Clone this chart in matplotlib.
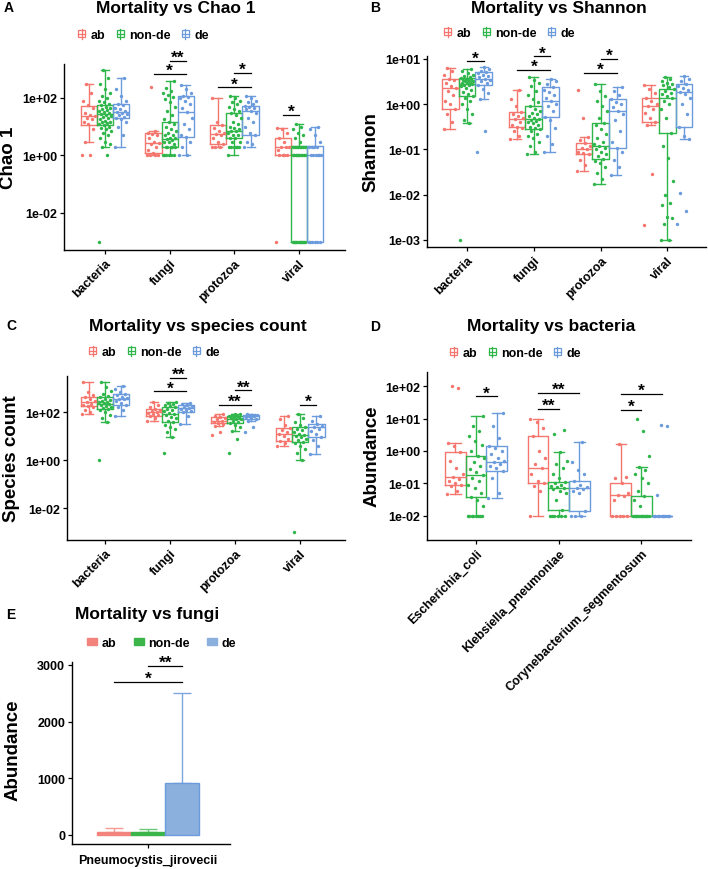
import numpy as np
import matplotlib
matplotlib.use("Agg")
import matplotlib.pyplot as plt
from matplotlib.lines import Line2D
from matplotlib.patches import Patch, Rectangle
from matplotlib.legend_handler import HandlerBase

plt.rcParams['font.family'] = ['Liberation Sans', 'DejaVu Sans']
plt.rcParams['font.weight'] = 'bold'

GROUPS = ["ab", "non-de", "de"]
COL = ["#F4766F", "#2EB64A", "#6B9BDD"]
E_FILL = ["#F2837D", "#3BB54A", "#8CB0DE"]
E_ERRCOL = ["#F59C96", "#6CC878", "#7EA6DE"]

# ---------------- Panel A: Chao 1 ----------------
A_CATS = ["bacteria", "fungi", "protozoa", "viral"]
# (whisker low, q1, median, q3, whisker high) for ab, non-de, de
A_BOX = [
    [(2.9, 11.5, 23, 54, 307), (1.9, 11, 28, 57, 900), (1.9, 19.5, 32, 60, 500)],
    [(1, 1.2, 2.7, 5.9, 6.8), (1, 1.9, 3.7, 14, 400), (1, 4.3, 32, 120, 280)],
    [(1.9, 2.4, 5.6, 11.5, 100), (1, 4, 7.3, 29, 120), (1.9, 5.2, 36, 54, 120)],
    [(1, 1, 1.9, 4, 8.7), (0.001, 0.001, 1, 2.1, 12.5), (0.001, 0.001, 1, 2.1, 9.5)],
]
A_PTS = [
    [[1, 1, 2.9, 8, 12, 15, 18, 20, 23, 25, 30, 45, 55, 80, 150, 307],
     [0.001, 1, 1.9, 2.5, 3, 4, 5, 6, 7, 8, 9, 10, 11, 12, 13, 14, 15, 16, 18, 20, 22, 24, 26, 28,
      30, 32, 35, 38, 40, 45, 50, 55, 60, 70, 80, 100, 120, 150, 200, 300, 500, 900],
     [1.9, 5, 10, 15, 19, 20, 22, 25, 28, 30, 32, 35, 40, 45, 55, 60, 80, 120, 200, 500]],
    [[1, 1, 1, 1, 1.2, 1.5, 2, 2.5, 2.7, 3, 4, 5, 5.5, 6, 6.8, 235],
     [1, 1, 1, 1, 1, 1, 2, 2, 2, 2, 2, 2.5, 3, 3, 3.5, 3.7, 4, 4, 5, 5, 6, 7, 8, 10, 12, 14, 18, 25,
      35, 50, 70, 90, 110, 130, 150, 180, 220, 400],
     [1, 1, 2, 3, 4.3, 5, 8, 12, 20, 32, 45, 60, 80, 100, 110, 120, 150, 200, 280]],
    [[1.9, 1.9, 2, 2.4, 3, 4, 5, 5.6, 6, 7, 9, 11.5, 15, 100],
     [1, 1.9, 2, 2, 2, 2, 2, 3, 3, 4, 4, 5, 5, 6, 7, 7.3, 8, 9, 10, 12, 15, 20, 25, 29, 35, 40, 50,
      60, 70, 80, 100, 120],
     [1.9, 2.5, 3, 5.2, 6, 10, 15, 20, 30, 36, 40, 45, 50, 54, 60, 70, 80, 100, 120]],
    [[0.001, 1, 1, 1, 1, 1.5, 1.9, 2, 2, 3, 4, 6, 8, 8.7],
     [0.001, 0.001, 0.001, 0.001, 0.001, 0.001, 0.001, 0.001, 0.001, 0.001, 0.001, 0.001,
      1, 1, 1, 1, 1, 1, 1, 1, 1, 1, 2, 2, 2, 2, 2, 2, 2, 2, 3, 4, 5, 6, 8, 10, 12.5],
     [0.001, 0.001, 0.001, 0.001, 0.001, 0.001, 1, 1, 1, 1, 1, 1, 2, 2, 2, 2, 3, 5, 8, 9.5]],
]
A_SIG = [(1, 1, 2, 2000, "**"), (1, 0, 2, 676, "*"), (2, 1, 2, 741, "*"),
         (2, 0, 2, 234, "*"), (3, 0, 1, 26, "*")]
A_YTICKS = [1e-2, 1, 1e2]
A_YTICKLABELS = ["1e-02", "1e+00", "1e+02"]

# ---------------- Panel B: Shannon ----------------
B_CATS = ["bacteria", "fungi", "protozoa", "viral"]
B_BOX = [
    [(0.28, 0.78, 2.24, 3.7, 6.3), (0.39, 1.5, 2.8, 3.8, 6.0), (1.3, 2.6, 3.7, 5.1, 6.6)],
    [(0.17, 0.31, 0.46, 0.69, 2.1), (0.079, 0.28, 0.47, 0.93, 4.1), (0.09, 0.51, 1.2, 2.35, 3.6)],
    [(0.034, 0.079, 0.1, 0.138, 0.19), (0.017, 0.062, 0.12, 0.39, 2.8), (0.027, 0.11, 0.72, 1.3, 2.35)],
    [(0.35, 0.4, 0.9, 1.4, 2.7), (0.001, 0.23, 1.35, 2.2, 4.0), (0.17, 0.32, 1.9, 2.8, 4.2)],
]
B_PTS = [
    [[0.28, 0.4, 0.6, 0.78, 1.0, 1.2, 1.6, 2.0, 2.24, 2.5, 3.0, 3.5, 3.7, 4.5, 5.5, 6.3],
     [0.001, 0.39, 0.45, 0.6, 0.8, 1.0, 1.2, 1.4, 1.5, 1.7, 1.9, 2.1, 2.3, 2.5, 2.6, 2.7, 2.8, 2.9,
      3.0, 3.1, 3.2, 3.3, 3.4, 3.5, 3.6, 3.7, 3.8, 4.0, 4.2, 4.5, 5.0, 5.5, 6.0],
     [0.087, 0.25, 1.3, 1.8, 2.2, 2.6, 3.0, 3.3, 3.5, 3.7, 3.9, 4.2, 4.5, 4.8, 5.1, 5.5, 6.0, 6.6]],
    [[0.17, 0.2, 0.25, 0.3, 0.31, 0.35, 0.4, 0.46, 0.5, 0.55, 0.6, 0.69, 0.9, 1.3, 2.1],
     [0.079, 0.09, 0.12, 0.15, 0.18, 0.2, 0.22, 0.25, 0.28, 0.3, 0.32, 0.35, 0.38, 0.4, 0.42, 0.45,
      0.47, 0.5, 0.55, 0.6, 0.65, 0.7, 0.8, 0.93, 1.1, 1.3, 1.6, 2.0, 2.5, 3.0, 3.5, 4.1],
     [0.09, 0.13, 0.2, 0.3, 0.45, 0.51, 0.7, 0.9, 1.0, 1.2, 1.4, 1.6, 1.9, 2.1, 2.35, 2.8, 3.2, 3.6]],
    [[0.034, 0.045, 0.06, 0.079, 0.085, 0.09, 0.1, 0.11, 0.12, 0.138, 0.16, 0.19, 0.5, 2.1],
     [0.017, 0.022, 0.03, 0.04, 0.05, 0.055, 0.062, 0.07, 0.08, 0.09, 0.1, 0.11, 0.12, 0.13, 0.15,
      0.18, 0.22, 0.28, 0.35, 0.39, 0.5, 0.7, 0.9, 1.2, 1.5, 2.0, 2.8],
     [0.027, 0.04, 0.06, 0.09, 0.11, 0.15, 0.25, 0.45, 0.6, 0.72, 0.85, 1.0, 1.1, 1.3, 1.6, 2.0, 2.35]],
    [[0.0021, 0.029, 0.35, 0.4, 0.5, 0.65, 0.8, 0.9, 1.0, 1.2, 1.4, 1.8, 2.2, 2.7],
     [0.001, 0.001, 0.0023, 0.003, 0.0032, 0.006, 0.0065, 0.01, 0.02, 0.065, 0.12, 0.23, 0.5, 0.8,
      1.0, 1.2, 1.35, 1.5, 1.7, 1.8, 2.0, 2.2, 2.4, 2.6, 2.8, 3.0, 3.3, 3.6, 4.0],
     [0.0022, 0.0044, 0.0107, 0.17, 0.2, 0.32, 0.6, 1.0, 1.4, 1.7, 1.9, 2.1, 2.3, 2.5, 2.8, 3.2, 3.6, 4.2]],
]
B_SIG = [(0, 1, 2, 8.9, "*"), (1, 1, 2, 11.5, "*"), (1, 0, 2, 5.75, "*"),
         (2, 1, 2, 10, "*"), (2, 0, 2, 5.0, "*")]
B_YTICKS = [1e-3, 1e-2, 1e-1, 1, 10]
B_YTICKLABELS = ["1e-03", "1e-02", "1e-01", "1e+00", "1e+01"]

# ---------------- Panel C: species count ----------------
C_CATS = ["bacteria", "fungi", "protozoa", "viral"]
C_BOX = [
    [(85, 178, 260, 420, 1780), (38, 138, 220, 420, 1780), (73, 200, 360, 575, 1200)],
    [(45, 68, 100, 138, 280), (9, 38, 85, 162, 280), (33, 100, 150, 200, 245)],
    [(28, 36, 45, 62, 85), (17, 36, 53, 73, 85), (45, 53, 68, 77, 85)],
    [(4, 6.6, 12.5, 21.5, 73), (1, 6, 11.5, 24, 85), (1.8, 9, 24, 33, 73)],
]
C_PTS = [
    [[85, 100, 130, 160, 178, 200, 230, 260, 300, 350, 420, 500, 700, 1780],
     [1, 38, 60, 80, 100, 120, 138, 150, 170, 190, 210, 220, 240, 260, 280, 300, 330, 370, 420,
      480, 600, 800, 1100, 1780],
     [73, 120, 170, 200, 250, 300, 340, 360, 400, 450, 520, 575, 700, 900, 1200]],
    [[45, 55, 68, 75, 85, 95, 100, 110, 120, 138, 160, 200, 280],
     [2, 9, 15, 20, 25, 30, 38, 45, 55, 65, 75, 85, 95, 110, 125, 140, 162, 180, 200, 220, 250, 280],
     [33, 70, 100, 115, 130, 140, 150, 160, 175, 200, 220, 245]],
    [[11, 15, 28, 33, 36, 40, 45, 50, 55, 62, 70, 85],
     [2, 8, 17, 25, 30, 36, 40, 45, 50, 53, 58, 62, 66, 70, 73, 78, 82, 85],
     [15.5, 24, 45, 53, 58, 63, 68, 72, 77, 80, 85]],
    [[4, 5, 6.6, 8, 10, 12.5, 15, 18, 21.5, 30, 50, 73],
     [0.001, 1, 2, 3, 4, 5, 6, 7, 8, 9, 10, 11.5, 13, 15, 18, 21, 24, 30, 40, 55, 85],
     [1.8, 4, 7, 9, 12, 16, 20, 24, 28, 33, 45, 73]],
]
C_SIG = [(1, 1, 2, 2700, "**"), (1, 0, 2, 750, "*"), (2, 1, 2, 830, "**"),
         (2, 0, 2, 200, "**"), (3, 1, 2, 200, "*")]
C_YTICKS = [1e-2, 1, 1e2]
C_YTICKLABELS = ["1e-02", "1e+00", "1e+02"]

# ---------------- Panel D: bacteria ----------------
D_CATS = ["Escherichia_coli", "Klebsiella_pneumoniae", "Corynebacterium_segmentosum"]
D_BOX = [
    [(0.047, 0.091, 0.155, 0.91, 1.8), (0.01, 0.037, 0.18, 0.69, 12.4), (0.035, 0.245, 0.45, 1.46, 15)],
    [(0.01, 0.1, 0.29, 2.9, 10), (0.01, 0.015, 0.07, 0.112, 0.9), (0.01, 0.014, 0.07, 0.12, 1.86)],
    [(0.01, 0.01, 0.045, 0.1, 1.65), (0.01, 0.01, 0.01, 0.04, 0.31), (0.01, 0.01, 0.01, 0.01, 0.01)],
]
D_PTS = [
    [[0.047, 0.06, 0.08, 0.091, 0.1, 0.12, 0.14, 0.155, 0.2, 0.3, 0.5, 0.91, 1.4, 1.8, 88, 100],
     [0.01, 0.01, 0.01, 0.01, 0.01, 0.01, 0.01, 0.01, 0.02, 0.03, 0.037, 0.05, 0.07, 0.09, 0.12,
      0.15, 0.18, 0.22, 0.28, 0.35, 0.45, 0.6, 0.69, 1.0, 1.5, 2.0, 3.0, 4.0, 6.0, 12.4],
     [0.035, 0.05, 0.15, 0.245, 0.3, 0.35, 0.4, 0.45, 0.5, 0.6, 0.8, 1.0, 1.2, 1.46, 2.5, 6.0, 15]],
    [[0.01, 0.06, 0.08, 0.1, 0.12, 0.2, 0.29, 0.4, 0.6, 1.0, 2.9, 5.0, 8.0, 10],
     [0.01, 0.01, 0.01, 0.01, 0.01, 0.01, 0.015, 0.03, 0.05, 0.06, 0.065, 0.07, 0.075, 0.08, 0.09,
      0.1, 0.112, 0.15, 0.2, 0.3, 0.4, 0.5, 0.9, 3.4, 4.6],
     [0.01, 0.01, 0.01, 0.014, 0.05, 0.06, 0.065, 0.07, 0.075, 0.09, 0.12, 0.2, 0.25, 0.45, 1.86]],
    [[0.01, 0.01, 0.01, 0.01, 0.01, 0.03, 0.04, 0.045, 0.05, 0.1, 0.15, 0.16, 1.65],
     [0.01, 0.01, 0.01, 0.01, 0.01, 0.01, 0.01, 0.01, 0.01, 0.01, 0.01, 0.01, 0.02, 0.03, 0.04,
      0.06, 0.1, 0.15, 0.2, 0.25, 0.31, 0.68, 4.1, 10],
     [0.01, 0.01, 0.01, 0.01, 0.01, 0.01, 0.01, 0.01, 0.01, 0.01, 0.045, 5.8, 6.4]],
]
D_SIG = [(0, 1, 2, 49, "*"), (1, 0, 2, 62, "**"), (1, 0, 1, 20, "**"),
         (2, 0, 2, 57.5, "*"), (2, 0, 1, 18.6, "*")]
D_YTICKS = [1e-2, 1e-1, 1, 10, 100]
D_YTICKLABELS = ["1e-02", "1e-01", "1e+00", "1e+01", "1e+02"]

# ---------------- Panel E: fungi ----------------
E_CAT = "Pneumocystis_jirovecii"
E_MEAN = [60, 55, 920]
E_UPPER = [130, 105, 2510]
E_SIG = [(1, 2, 2980, "**"), (0, 2, 2700, "*")]
E_YTICKS = [0, 1000, 2000, 3000]

OFFS = [-0.25, 0.0, 0.25]
BOXW = 0.25

W, H = 708, 870
fig = plt.figure(figsize=(W / 100, H / 100), dpi=100)


def rect(l, r, t, b):
    return [l / W, 1 - b / H, (r - l) / W, (b - t) / H]


def style_axes(ax):
    for s in ("top", "right"):
        ax.spines[s].set_visible(False)
    for s in ("left", "bottom"):
        ax.spines[s].set_linewidth(1.0)
    ax.tick_params(axis="both", length=3, width=0.9, labelsize=9, pad=2)
    for lab in ax.get_yticklabels():
        lab.set_fontweight("bold")


def jitter(n, width):
    return ((np.arange(n) * 0.6180339887) % 1.0 - 0.5) * width


def sig_bar(ax, x1, x2, y, label):
    ax.plot([x1, x2], [y, y], color="black", lw=0.9, clip_on=False, zorder=5)
    ax.annotate(label, xy=((x1 + x2) / 2, y), xytext=(0, -0.8), textcoords="offset points",
                ha="center", va="baseline", fontsize=12.5, fontweight="bold", annotation_clip=False)


class BoxKey(HandlerBase):
    def create_artists(self, legend, orig_handle, xdescent, ydescent, width, height, fontsize, trans):
        c = orig_handle.get_color()
        x0, y0 = -xdescent, -ydescent
        bw, bh = width * 0.75, height * 0.75
        bx, by = x0 + (width - bw) / 2, y0 + (height - bh) / 2
        r = Rectangle((bx, by), bw, bh, facecolor="white", edgecolor=c, lw=0.9, transform=trans)
        med = Line2D([bx, bx + bw], [by + bh / 2] * 2, color=c, lw=0.9, transform=trans)
        wh = Line2D([bx + bw / 2] * 2, [y0, y0 + height], color=c, lw=0.9, transform=trans)
        return [r, med, wh]


def box_panel(ax, cats, box, pts, sig, yticks, yticklabels, xlim, ylim):
    ax.set_yscale("log")
    for ci in range(len(cats)):
        for gi in range(3):
            x = ci + 1 + OFFS[gi]
            lo, q1, med, q3, hi = box[ci][gi]
            st = dict(whislo=lo, q1=q1, med=med, q3=q3, whishi=hi, fliers=[])
            c = COL[gi]
            ax.bxp([st], positions=[x], widths=BOXW, showfliers=False, capwidths=BOXW * 0.5,
                   boxprops=dict(color=c, lw=1.0), medianprops=dict(color=c, lw=1.0),
                   whiskerprops=dict(color=c, lw=1.0), capprops=dict(color=c, lw=1.0),
                   manage_ticks=False)
            vals = np.array(pts[ci][gi], dtype=float)
            ax.scatter(x + jitter(len(vals), 0.2), vals, s=6, color=c, lw=0, zorder=3)
    for ci, g1, g2, y, lab in sig:
        sig_bar(ax, ci + 1 + OFFS[g1], ci + 1 + OFFS[g2], y, lab)
    ax.set_xlim(*xlim)
    ax.set_ylim(*ylim)
    ax.set_yticks(yticks)
    ax.set_yticklabels(yticklabels, fontweight="bold")
    ax.yaxis.set_minor_locator(matplotlib.ticker.NullLocator())
    ax.set_xticks(range(1, len(cats) + 1))
    ax.set_xticklabels(cats, rotation=45, ha="right", rotation_mode="anchor",
                       fontsize=9, fontweight="bold")
    style_axes(ax)


def box_legend(ax, x, y):
    handles = [Line2D([], [], color=COL[i], label=GROUPS[i]) for i in range(3)]
    ax.legend(handles=handles, handler_map={Line2D: BoxKey()}, loc="center left",
              bbox_to_anchor=(x / W, 1 - y / H),
              bbox_transform=fig.transFigure, ncol=3, frameon=False,
              prop=dict(size=9, weight="bold"), handlelength=0.75, handleheight=0.8,
              handletextpad=0.35, columnspacing=0.8, borderpad=0, borderaxespad=0)


# Panel A
axA = fig.add_axes(rect(64, 345, 65, 251))
box_panel(axA, A_CATS, A_BOX, A_PTS, A_SIG, A_YTICKS, A_YTICKLABELS,
          (0.366, 4.71), (10 ** -3.29, 10 ** 3.18))
box_legend(axA, 77, 36)

# Panel B
axB = fig.add_axes(rect(427, 706, 57, 248))
box_panel(axB, B_CATS, B_BOX, B_PTS, B_SIG, B_YTICKS, B_YTICKLABELS,
          (0.4, 4.58), (10 ** -3.155, 10 ** 1.066))
box_legend(axB, 443, 34)

# Panel C
axC = fig.add_axes(rect(67, 345, 377, 541))
box_panel(axC, C_CATS, C_BOX, C_PTS, C_SIG, C_YTICKS, C_YTICKLABELS,
          (0.415, 4.69), (10 ** -3.32, 10 ** 3.51))
box_legend(axC, 88, 353)

# Panel D
axD = fig.add_axes(rect(427, 691, 373, 541))
box_panel(axD, D_CATS, D_BOX, D_PTS, D_SIG, D_YTICKS, D_YTICKLABELS,
          (0.406, 3.6), (10 ** -2.75, 10 ** 2.44))
box_legend(axD, 449, 354)

# Panel E
axE = fig.add_axes(rect(72, 230, 663, 845))
EX = [-0.3, 0.0, 0.3]
EW = 0.3
for i in range(3):
    axE.bar(EX[i], E_MEAN[i], width=EW, color=E_FILL[i],
            edgecolor=(COL[i] if i == 2 else E_FILL[i]), lw=1.0, zorder=2)
    axE.errorbar(EX[i], E_MEAN[i], yerr=[[0], [E_UPPER[i] - E_MEAN[i]]], fmt="none",
                 ecolor=E_ERRCOL[i], elinewidth=1.0, capsize=6.5, capthick=1.0, zorder=1)
for g1, g2, y, lab in E_SIG:
    sig_bar(axE, EX[g1], EX[g2], y, lab)
axE.set_xlim(-0.67, 0.72)
axE.set_ylim(-160, 3050)
axE.set_yticks(E_YTICKS)
axE.set_yticklabels([str(v) for v in E_YTICKS], fontweight="bold")
axE.set_xticks([0])
axE.set_xticklabels([E_CAT], fontsize=9, fontweight="bold")
style_axes(axE)
axE.tick_params(axis="x", pad=4)
handlesE = [Patch(facecolor=E_FILL[i], edgecolor=E_FILL[i], label=GROUPS[i]) for i in range(3)]
axE.legend(handles=handlesE, loc="center left", bbox_to_anchor=(87 / W, 1 - 644 / H),
           bbox_transform=fig.transFigure, ncol=3, frameon=False,
           prop=dict(size=9, weight="bold"), handlelength=0.8, handleheight=0.55,
           handletextpad=0.35, columnspacing=1.4, borderpad=0, borderaxespad=0)

# Titles, panel letters, y labels
TITLES = [("Mortality vs Chao 1", 176, 9), ("Mortality vs Shannon", 559, 8),
          ("Mortality vs species count", 198, 326), ("Mortality vs bacteria", 551, 327),
          ("Mortality vs fungi", 147, 615)]
for t, x, y in TITLES:
    fig.text(x / W, 1 - y / H, t, ha="center", va="center", fontsize=12.5, fontweight="bold")

LETTERS = [("A", 9, 8), ("B", 375, 8), ("C", 11, 326), ("D", 375, 327), ("E", 11, 615)]
for t, x, y in LETTERS:
    fig.text(x / W, 1 - y / H, t, ha="center", va="center", fontsize=10, fontweight="bold")

YLABELS = [("Chao 1", 9, 158), ("Shannon", 371, 152), ("Species count", 12, 459),
           ("Abundance", 372, 456), ("Abundance", 13, 750)]
for t, x, y in YLABELS:
    fig.text(x / W, 1 - y / H, t, ha="center", va="center", rotation=90,
             fontsize=13.5, fontweight="bold")

fig.savefig("out.png", dpi=100)
